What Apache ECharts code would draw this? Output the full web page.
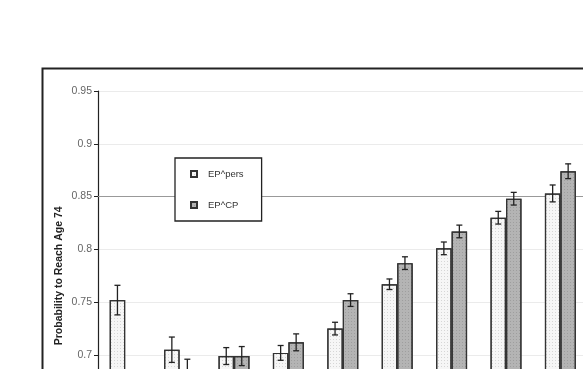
<!DOCTYPE html>
<html>
<head>
<meta charset="utf-8">
<script src="https://cdn.jsdelivr.net/npm/echarts@6/dist/echarts.min.js"></script>
<style>
html,body{margin:0;padding:0;background:#fff;overflow:hidden;width:583px;height:369px;}
#c{width:600px;height:520px;}
</style>
</head>
<body>
<div id="c"></div>
<script>
var categories = ['1','2','3','4','5','6','7','8','9'];
var persValues = [0.752, 0.705, 0.699, 0.702, 0.725, 0.767, 0.801, 0.830, 0.853];
var persErr    = [0.014, 0.012, 0.008, 0.007, 0.006, 0.005, 0.006, 0.006, 0.008];
var cpValues   = [0.668, 0.684, 0.699, 0.712, 0.752, 0.787, 0.817, 0.848, 0.874];
var cpErr      = [0.012, 0.012, 0.009, 0.008, 0.006, 0.006, 0.006, 0.006, 0.007];
var yTicks = { min: 0.6, max: 0.95, interval: 0.05 };
var refLine = 0.85;

var BAR_W = 15.5;
var FONT = 'Liberation Sans, Arial, sans-serif';
var chart = echarts.init(document.getElementById('c'), null, {renderer: 'canvas'});

function errSeries(vals, errs, side) {
  return {
    type: 'custom',
    z: 10,
    silent: true,
    data: vals.map(function (v, i) { return [i, v, errs[i]]; }),
    renderItem: function (params, api) {
      var i = api.value(0), v = api.value(1), e = api.value(2);
      var top = api.coord([i, v + e]);
      var bot = api.coord([i, v - e]);
      var x = top[0] + side * BAR_W / 2;
      var cw = 3;
      var st = {stroke: '#222', lineWidth: 1.3};
      return {
        type: 'group',
        children: [
          {type: 'line', shape: {x1: x, y1: top[1], x2: x, y2: bot[1]}, style: st},
          {type: 'line', shape: {x1: x - cw, y1: top[1], x2: x + cw, y2: top[1]}, style: st},
          {type: 'line', shape: {x1: x - cw, y1: bot[1], x2: x + cw, y2: bot[1]}, style: st}
        ]
      };
    }
  };
}

chart.setOption({
  animation: false,
  backgroundColor: '#fff',
  grid: {left: 98, top: 91, right: 12.4, bottom: 59.4, containLabel: false},
  graphic: [{
    type: 'rect', z: 100, silent: true,
    shape: {x: 42.5, y: 68.5, width: 620, height: 600},
    style: {fill: 'none', stroke: '#222', lineWidth: 2}
  }],
  legend: {
    orient: 'vertical',
    left: 175, top: 158,
    padding: [11, 18, 11, 15],
    itemGap: 21,
    itemWidth: 6, itemHeight: 6,
    icon: 'rect',
    backgroundColor: '#fff',
    borderColor: '#222', borderWidth: 1.3,
    borderRadius: 0,
    textStyle: {fontFamily: FONT, fontSize: 9.5, color: '#333', padding: [0, 0, 0, 6]},
    data: ['EP^pers', 'EP^CP'],
    z: 20
  },
  xAxis: {
    type: 'category',
    data: categories,
    axisLine: {lineStyle: {color: '#222'}},
    axisTick: {show: false},
    axisLabel: {fontSize: 9, color: '#444'}
  },
  yAxis: {
    type: 'value',
    min: yTicks.min, max: yTicks.max, interval: yTicks.interval,
    name: 'Probability to Reach Age 74',
    nameLocation: 'middle',
    nameGap: 33,
    nameMoveOverlap: false,
    nameTextStyle: {fontFamily: FONT, fontSize: 10.5, fontWeight: 'bold', color: '#222'},
    axisLine: {show: true, lineStyle: {color: '#222', width: 1.2}},
    axisTick: {show: true, length: 4, lineStyle: {color: '#222'}},
    axisLabel: {
      margin: 6, fontSize: 10.5, color: '#666',
      fontFamily: FONT,
      formatter: function (v) { return String(parseFloat(v.toFixed(2))); }
    },
    splitLine: {show: true, lineStyle: {color: '#ebebeb', width: 1}}
  },
  series: [
    {
      name: 'EP^pers', type: 'bar', data: persValues,
      barWidth: BAR_W, barGap: '0%',
      itemStyle: {
        color: '#f6f6f6', borderColor: '#333', borderWidth: 1.2,
        decal: {symbol: 'rect', symbolSize: 1, color: 'rgba(0,0,0,0.13)', dashArrayX: [1, 2], dashArrayY: [1, 2]}
      },
      markLine: {
        silent: true, symbol: 'none', label: {show: false},
        lineStyle: {color: '#999', type: 'solid', width: 1},
        data: [{yAxis: refLine}],
        z: 1
      },
      z: 3
    },
    {
      name: 'EP^CP', type: 'bar', data: cpValues,
      barWidth: BAR_W, barGap: '0%',
      itemStyle: {
        color: '#b4b4b4', borderColor: '#333', borderWidth: 1.2,
        decal: {symbol: 'rect', symbolSize: 1, color: 'rgba(0,0,0,0.12)', dashArrayX: [1, 2], dashArrayY: [1, 2]}
      },
      z: 3
    },
    errSeries(persValues, persErr, -1),
    errSeries(cpValues, cpErr, 1)
  ]
});
</script>
</body>
</html>
